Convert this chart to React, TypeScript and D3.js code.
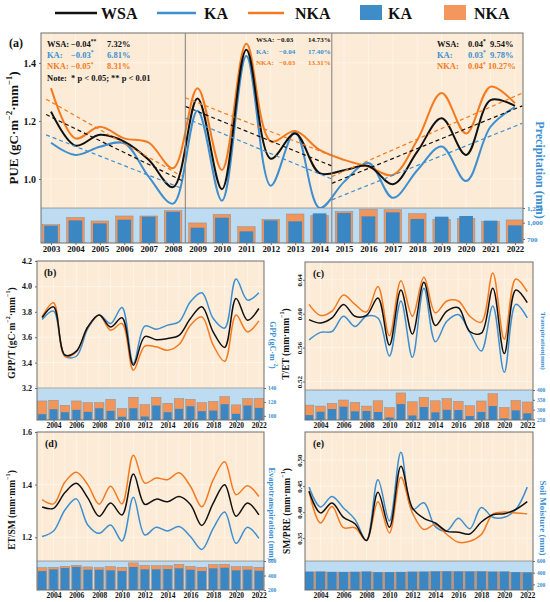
import { useEffect, useRef } from "react";
import * as d3 from "d3";

// ---------- data ----------
const years = [
  2003, 2004, 2005, 2006, 2007, 2008, 2009, 2010, 2011, 2012,
  2013, 2014, 2015, 2016, 2017, 2018, 2019, 2020, 2021, 2022,
];
const evenYears = [2004, 2006, 2008, 2010, 2012, 2014, 2016, 2018, 2020, 2022];

// (a) PUE + precipitation
const pueWSA = [1.232, 1.115, 1.152, 1.129, 1.066, 0.972, 1.277, 0.965, 1.445, 1.07, 1.157, 1.02, 1.03, 1.045, 0.982, 1.094, 1.209, 1.083, 1.272, 1.252];
const pueKA = [1.125, 1.083, 1.111, 1.123, 1.008, 0.915, 1.235, 0.925, 1.424, 0.977, 1.163, 0.9, 0.99, 1.055, 0.935, 1.03, 1.112, 0.993, 1.18, 1.248];
const pueNKA = [1.313, 1.14, 1.18, 1.14, 1.125, 1.037, 1.313, 1.031, 1.466, 1.13, 1.165, 1.1, 1.066, 1.042, 1.014, 1.134, 1.296, 1.157, 1.318, 1.261];
const preKA = [945, 1042, 987, 1055, 1110, 1200, 908, 1092, 840, 1042, 1024, 1171, 1178, 1116, 1190, 1068, 1110, 1123, 1037, 950];
const preNKA = [963, 1097, 1031, 1123, 1123, 1220, 995, 1153, 926, 1061, 1160, 1129, 1208, 1245, 1239, 1166, 1061, 1079, 1024, 1050];

// trend segments for (a): [x start, x end] and [value start, value end]
const trendSpans: [number, number][] = [[2002.8, 2008.35], [2008.5, 2014.5], [2014.5, 2022.3]];
const trendWSA: [number, number][] = [[1.222, 0.995], [1.25, 1.045], [0.985, 1.252]];
const trendKA: [number, number][] = [[1.152, 0.968], [1.21, 1.0], [0.928, 1.192]];
const trendNKA: [number, number][] = [[1.275, 1.01], [1.28, 1.08], [1.008, 1.296]];
const periodBreaks = [2008.5, 2014.5];

// (b) GPP/T + GPP
const gptWSA = [3.755, 3.839, 3.46, 3.49, 3.68, 3.775, 3.68, 3.753, 3.38, 3.605, 3.58, 3.59, 3.615, 3.747, 3.84, 3.64, 3.52, 3.905, 3.734, 3.826];
const gptKA = [3.739, 3.805, 3.45, 3.45, 3.668, 3.774, 3.708, 3.834, 3.392, 3.687, 3.663, 3.695, 3.72, 3.879, 3.95, 3.747, 3.672, 4.058, 3.892, 3.95];
const gptNKA = [3.76, 3.871, 3.45, 3.484, 3.68, 3.774, 3.655, 3.708, 3.34, 3.53, 3.524, 3.497, 3.542, 3.695, 3.76, 3.537, 3.41, 3.774, 3.642, 3.729];
const gppKA = [102.4, 109.5, 105.2, 108.6, 105.7, 110.9, 107.1, 98.6, 110.9, 99, 114.8, 105.2, 110, 113.8, 106.7, 107.6, 116.7, 102.9, 114.8, 111.4];
const gppNKA = [121.4, 122.4, 115.2, 121.4, 119, 119, 123.8, 110.5, 126.7, 116.2, 126.7, 118.1, 124.8, 123.8, 119, 120.9, 127.6, 115.7, 124.8, 125.2];

// (c) T/ET + transpiration
const tetWSA = [0.593, 0.589, 0.595, 0.611, 0.597, 0.598, 0.6185, 0.563, 0.628, 0.576, 0.637, 0.586, 0.603, 0.607, 0.579, 0.577, 0.63, 0.553, 0.628, 0.613];
const tetKA = [0.569, 0.578, 0.579, 0.597, 0.585, 0.597, 0.595, 0.55, 0.615, 0.5485, 0.63, 0.567, 0.591, 0.599, 0.578, 0.556, 0.609, 0.531, 0.611, 0.595];
const tetNKA = [0.611, 0.598, 0.603, 0.622, 0.611, 0.602, 0.632, 0.574, 0.639, 0.597, 0.643, 0.601, 0.615, 0.615, 0.597, 0.59, 0.648, 0.57, 0.641, 0.626];
const trKA = [272, 289, 303, 315, 291, 293, 288, 260, 328, 270, 313, 286, 299, 298, 267, 288, 318, 255, 296, 281];
const trNKA = [323, 318, 332, 349, 337, 318, 345, 310, 385, 340, 362, 345, 356, 342, 320, 344, 381, 311, 347, 339];

// (d) ET/SM + evapotranspiration
const esWSA = [1.315, 1.31, 1.37, 1.405, 1.35, 1.28, 1.33, 1.285, 1.44, 1.325, 1.345, 1.335, 1.355, 1.325, 1.245, 1.33, 1.4, 1.28, 1.33, 1.285];
const esKA = [1.203, 1.224, 1.304, 1.346, 1.247, 1.215, 1.247, 1.186, 1.352, 1.209, 1.238, 1.224, 1.241, 1.203, 1.154, 1.234, 1.296, 1.177, 1.238, 1.196];
const esNKA = [1.343, 1.327, 1.41, 1.447, 1.4, 1.326, 1.394, 1.327, 1.512, 1.406, 1.425, 1.419, 1.445, 1.394, 1.316, 1.419, 1.487, 1.362, 1.396, 1.355];
const etKA = [461, 485, 504, 518, 480, 480, 471, 461, 518, 485, 485, 489, 499, 480, 461, 499, 508, 471, 480, 466];
const etNKA = [508, 513, 527, 541, 518, 508, 522, 513, 574, 541, 536, 536, 555, 527, 513, 551, 555, 522, 522, 513];

// (e) SM/PRE + soil moisture
const spWSA = [0.44, 0.3985, 0.4177, 0.39, 0.3775, 0.3455, 0.438, 0.371, 0.488, 0.408, 0.388, 0.379, 0.363, 0.3615, 0.358, 0.381, 0.395, 0.397, 0.405, 0.42];
const spKA = [0.448, 0.41, 0.43, 0.408, 0.386, 0.3455, 0.462, 0.383, 0.515, 0.405, 0.418, 0.372, 0.364, 0.388, 0.368, 0.409, 0.39, 0.39, 0.405, 0.448];
const spNKA = [0.44, 0.379, 0.411, 0.37, 0.37, 0.3455, 0.42, 0.36, 0.467, 0.3985, 0.3666, 0.376, 0.357, 0.342, 0.344, 0.357, 0.396, 0.4, 0.3985, 0.3966];
const smKA = [417, 418, 413, 412, 414, 418, 408, 409, 412, 416, 417, 421, 422, 421, 420, 421, 417, 418, 409, 404];
const smNKA = [412, 414, 409, 409, 410, 414, 404, 405, 408, 412, 413, 417, 418, 417, 416, 417, 413, 414, 405, 400];

// ---------- style ----------
const FONT = "'Liberation Serif', 'Times New Roman', serif";
const C = {
  wsa: "#111111",
  ka: "#3b8fd2",
  nka: "#f47a20",
  barKA: "#3a87c4",
  barNKA: "#f2955a",
  lineBg: "#fcebd6",
  barBg: "#bddcf1",
  grid: "#fff6ec",
  frame: "#6e6e6e",
};

interface Box { left: number; right: number; top: number; mid: number; bottom: number; }

interface PanelCfg {
  id: string;
  tag: string;
  tagPos: [number, number];
  tagSize: number;
  box: Box;
  xDomain: [number, number];
  yDomain: [number, number];
  yTicks: number[];
  yFmt: (v: number) => string;
  yTickSize: number;
  yTickVertical?: boolean;
  barDomain: [number, number];
  barTicks: number[];
  barTickSize: number;
  wsa: number[];
  ka: number[];
  nka: number[];
  barKA: number[];
  barNKA: number[];
  yLabel: string;
  yLabelPos: [number, number];
  yLabelSize: number;
  rLabel: string;
  rLabelPos: [number, number];
  rLabelSize: number;
  yearTicks: number[];
  yearSize: number;
  orangeW: number;
  blueW: number;
  lineW: number;
}

// text with ^{...} superscripts
function richText(
  t: d3.Selection<SVGTextElement, unknown, null, undefined>,
  s: string,
  size: number
) {
  const parts = s.split(/(\^\{[^}]*\})/);
  let up = false;
  parts.forEach((p) => {
    if (!p) return;
    if (p.startsWith("^{")) {
      t.append("tspan")
        .attr("font-size", size * 0.65)
        .attr("dy", -size * 0.4)
        .text(p.slice(2, -1));
      up = true;
    } else {
      t.append("tspan").attr("dy", up ? size * 0.4 : 0).text(p);
      up = false;
    }
  });
}

function drawPanel(svg: d3.Selection<SVGSVGElement, unknown, null, undefined>, cfg: PanelCfg) {
  const { box } = cfg;
  const g = svg.append("g").attr("font-family", FONT).attr("font-weight", "bold");

  const x = d3.scaleLinear().domain(cfg.xDomain).range([box.left, box.right]);
  const y = d3.scaleLinear().domain(cfg.yDomain).range([box.mid, box.top]);
  const yb = d3.scaleLinear().domain(cfg.barDomain).range([box.bottom, box.mid]);
  const step = x(2004) - x(2003);

  const defs = g.append("defs");
  defs.append("clipPath").attr("id", `clipL-${cfg.id}`)
    .append("rect").attr("x", box.left).attr("y", box.top)
    .attr("width", box.right - box.left).attr("height", box.mid - box.top);
  defs.append("clipPath").attr("id", `clipB-${cfg.id}`)
    .append("rect").attr("x", box.left).attr("y", box.mid)
    .attr("width", box.right - box.left).attr("height", box.bottom - box.mid);

  // backgrounds
  g.append("rect").attr("x", box.left).attr("y", box.top)
    .attr("width", box.right - box.left).attr("height", box.mid - box.top)
    .attr("fill", C.lineBg);
  g.append("rect").attr("x", box.left).attr("y", box.mid)
    .attr("width", box.right - box.left).attr("height", box.bottom - box.mid)
    .attr("fill", C.barBg);

  // faint grid
  const grid = g.append("g").attr("stroke", C.grid).attr("stroke-width", 0.8);
  grid.selectAll("line.v").data(years).enter().append("line")
    .attr("x1", (d) => x(d)).attr("x2", (d) => x(d))
    .attr("y1", box.top).attr("y2", box.mid);
  grid.selectAll("line.h").data(cfg.yTicks).enter().append("line")
    .attr("x1", box.left).attr("x2", box.right)
    .attr("y1", (d) => y(d)).attr("y2", (d) => y(d));

  // bars
  const bars = g.append("g").attr("clip-path", `url(#clipB-${cfg.id})`);
  bars.selectAll("rect.nka").data(cfg.barNKA).enter().append("rect")
    .attr("x", (_, i) => x(years[i]) - (step * cfg.orangeW) / 2)
    .attr("width", step * cfg.orangeW)
    .attr("y", (d) => yb(d))
    .attr("height", (d) => box.bottom - yb(d))
    .attr("fill", C.barNKA)
    .attr("stroke", "#8f8f8f")
    .attr("stroke-width", 0.5);
  bars.selectAll("rect.ka").data(cfg.barKA).enter().append("rect")
    .attr("x", (_, i) => x(years[i]) - (step * cfg.blueW) / 2)
    .attr("width", step * cfg.blueW)
    .attr("y", (d) => yb(d))
    .attr("height", (d) => box.bottom - yb(d))
    .attr("fill", C.barKA);

  // lines
  const line = d3.line<number>()
    .x((_, i) => x(years[i]))
    .y((d) => y(d))
    .curve(d3.curveCatmullRom.alpha(0.5));
  const lines = g.append("g").attr("clip-path", `url(#clipL-${cfg.id})`).attr("fill", "none");
  lines.append("path").datum(cfg.ka).attr("stroke", C.ka).attr("stroke-width", cfg.lineW).attr("d", line);
  lines.append("path").datum(cfg.nka).attr("stroke", C.nka).attr("stroke-width", cfg.lineW).attr("d", line);
  lines.append("path").datum(cfg.wsa).attr("stroke", C.wsa).attr("stroke-width", cfg.lineW).attr("d", line);

  // frame
  g.append("rect").attr("x", box.left).attr("y", box.top)
    .attr("width", box.right - box.left).attr("height", box.bottom - box.top)
    .attr("fill", "none").attr("stroke", C.frame).attr("stroke-width", 1);
  g.append("line").attr("x1", box.left).attr("x2", box.right)
    .attr("y1", box.mid).attr("y2", box.mid)
    .attr("stroke", C.frame).attr("stroke-width", 0.6);

  // left axis
  const ya = g.append("g").attr("transform", `translate(${box.left},0)`)
    .call(d3.axisLeft(y).tickValues(cfg.yTicks).tickFormat((d) => cfg.yFmt(d as number)).tickSize(2).tickPadding(3));
  ya.select(".domain").remove();
  ya.selectAll("line").attr("stroke", C.frame);
  ya.selectAll("text").attr("fill", "#111").attr("font-size", cfg.yTickSize)
    .attr("font-family", FONT).attr("font-weight", "bold");
  if (cfg.yTickVertical) {
    ya.selectAll("text").attr("transform", "rotate(-90)")
      .attr("x", 0).attr("y", -3).attr("dy", 0).style("text-anchor", "middle");
  }

  // right bar axis
  const ra = g.append("g").attr("transform", `translate(${box.right},0)`)
    .call(d3.axisRight(yb).tickValues(cfg.barTicks).tickSize(2).tickPadding(2));
  ra.select(".domain").remove();
  ra.selectAll("line").attr("stroke", C.frame);
  ra.selectAll("text").attr("fill", C.ka).attr("font-size", cfg.barTickSize)
    .attr("font-family", FONT).attr("font-weight", "bold");

  // year axis
  const xa = g.append("g").attr("transform", `translate(0,${box.bottom})`)
    .call(d3.axisBottom(x).tickValues(cfg.yearTicks).tickFormat(d3.format("d")).tickSize(2).tickPadding(1));
  xa.select(".domain").remove();
  xa.selectAll("line").attr("stroke", C.frame);
  xa.selectAll("text").attr("fill", "#111").attr("font-size", cfg.yearSize)
    .attr("font-family", FONT).attr("font-weight", "bold");

  // axis titles
  const yl = g.append("text")
    .attr("transform", `translate(${cfg.yLabelPos[0]},${cfg.yLabelPos[1]}) rotate(-90)`)
    .attr("text-anchor", "middle").attr("dominant-baseline", "middle")
    .attr("font-size", cfg.yLabelSize).attr("fill", "#111");
  richText(yl, cfg.yLabel, cfg.yLabelSize);

  const rl = g.append("text")
    .attr("transform", `translate(${cfg.rLabelPos[0]},${cfg.rLabelPos[1]}) rotate(90)`)
    .attr("text-anchor", "middle").attr("dominant-baseline", "middle")
    .attr("font-size", cfg.rLabelSize).attr("fill", C.ka);
  richText(rl, cfg.rLabel, cfg.rLabelSize);

  g.append("text").attr("x", cfg.tagPos[0]).attr("y", cfg.tagPos[1])
    .attr("font-size", cfg.tagSize).attr("fill", "#111").text(cfg.tag);

  return { g, x, y };
}

function annoRow(
  g: d3.Selection<SVGGElement, unknown, null, undefined>,
  y: number, size: number, color: string,
  cols: [number, number, number],
  label: string, value: string, stars: string, pct: string
) {
  const t = g.append("text").attr("y", y).attr("font-size", size).attr("fill", color);
  t.append("tspan").attr("x", cols[0]).text(label);
  t.append("tspan").attr("x", cols[1]).text(value);
  if (stars) {
    t.append("tspan").attr("font-size", size * 0.65).attr("dy", -size * 0.4).text(stars);
    t.append("tspan").attr("x", cols[2]).attr("dy", size * 0.4).text(pct);
  } else {
    t.append("tspan").attr("x", cols[2]).text(pct);
  }
}

export default function App() {
  const svgRef = useRef<SVGSVGElement>(null);

  useEffect(() => {
    if (!svgRef.current) return;
    const svg = d3.select(svgRef.current);
    svg.selectAll("*").remove();

    // ---- legend ----
    const lg = svg.append("g").attr("font-family", FONT).attr("font-weight", "bold").attr("font-size", 16);
    const legendLines = [
      { x1: 55, x2: 97, tx: 101, color: C.wsa, name: "WSA" },
      { x1: 157, x2: 196, tx: 204, color: C.ka, name: "KA" },
      { x1: 248, x2: 284, tx: 295, color: C.nka, name: "NKA" },
    ];
    legendLines.forEach((l) => {
      lg.append("line").attr("x1", l.x1).attr("x2", l.x2).attr("y1", 13).attr("y2", 13)
        .attr("stroke", l.color).attr("stroke-width", 2.6);
      lg.append("text").attr("x", l.tx).attr("y", 19).attr("fill", "#111").text(l.name);
    });
    const legendBoxes = [
      { x: 360, tx: 388, color: "#3e8cc8", name: "KA" },
      { x: 444, tx: 474, color: "#f4975c", name: "NKA" },
    ];
    legendBoxes.forEach((b) => {
      lg.append("rect").attr("x", b.x).attr("y", 5).attr("width", 22).attr("height", 15).attr("fill", b.color);
      lg.append("text").attr("x", b.tx).attr("y", 19).attr("fill", "#111").text(b.name);
    });

    // ---- (a) ----
    const a = drawPanel(svg, {
      id: "a", tag: "(a)", tagPos: [9, 47], tagSize: 12,
      box: { left: 41, right: 523, top: 33, mid: 208, bottom: 243 },
      xDomain: [2002.59, 2022.33],
      yDomain: [0.9, 1.503], yTicks: [1.0, 1.2, 1.4], yFmt: d3.format(".1f"), yTickSize: 10,
      barDomain: [626, 1270], barTicks: [700, 1000, 1270], barTickSize: 7,
      wsa: pueWSA, ka: pueKA, nka: pueNKA, barKA: preKA, barNKA: preNKA,
      yLabel: "PUE (gC·m^{−2}·mm^{−1})", yLabelPos: [15, 128], yLabelSize: 13,
      rLabel: "Precipitation (mm)", rLabelPos: [539, 170], rLabelSize: 12,
      yearTicks: years, yearSize: 8.8,
      orangeW: 0.72, blueW: 0.56, lineW: 2,
    });

    // trend lines
    const trend = d3.line<[number, number]>().x((d) => a.x(d[0])).y((d) => a.y(d[1]));
    const tg = a.g.append("g").attr("fill", "none").attr("stroke-width", 1.2).attr("stroke-dasharray", "4,3")
      .attr("clip-path", "url(#clipL-a)");
    [
      { data: trendKA, color: C.ka },
      { data: trendNKA, color: C.nka },
      { data: trendWSA, color: C.wsa },
    ].forEach((s) => {
      s.data.forEach((v, i) => {
        tg.append("path").attr("stroke", s.color)
          .attr("d", trend([[trendSpans[i][0], v[0]], [trendSpans[i][1], v[1]]]));
      });
    });

    // period separators
    a.g.selectAll("line.sep").data(periodBreaks).enter().append("line")
      .attr("x1", (d) => a.x(d)).attr("x2", (d) => a.x(d))
      .attr("y1", 33).attr("y2", 243)
      .attr("stroke", "#808080").attr("stroke-width", 1);

    // annotations
    const an = a.g.append("g");
    annoRow(an, 46.5, 8.5, C.wsa, [47, 71, 107], "WSA:", "−0.04", "**", "7.32%");
    annoRow(an, 57.5, 8.5, C.ka, [47, 71, 107], "KA:", "−0.03", "*", "6.81%");
    annoRow(an, 69, 8.5, C.nka, [47, 71, 107], "NKA:", "−0.05", "*", "8.31%");
    an.append("text").attr("x", 47).attr("y", 81).attr("font-size", 8.5).attr("fill", "#111")
      .attr("xml:space", "preserve").text("Note:  * p < 0.05; ** p < 0.01");
    annoRow(an, 42, 7, C.wsa, [256, 277, 308], "WSA:", "−0.03", "", "14.73%");
    annoRow(an, 53.5, 7, C.ka, [256, 279, 308], "KA:", "−0.04", "", "17.40%");
    annoRow(an, 65, 7, C.nka, [256, 279, 308], "NKA:", "−0.03", "", "13.31%");
    annoRow(an, 46.5, 8.5, C.wsa, [437, 468, 490], "WSA:", "0.04", "*", "9.54%");
    annoRow(an, 57.5, 8.5, C.ka, [437, 468, 490], "KA:", "0.03", "*", "9.78%");
    annoRow(an, 69, 8.5, C.nka, [437, 468, 488], "NKA:", "0.04", "*", "10.27%");

    // ---- (b) ----
    drawPanel(svg, {
      id: "b", tag: "(b)", tagPos: [44, 276], tagSize: 10,
      box: { left: 37, right: 264, top: 261, mid: 388, bottom: 420 },
      xDomain: [2002.55, 2022.45],
      yDomain: [3.2, 4.2], yTicks: [3.2, 3.4, 3.6, 3.8, 4.0, 4.2], yFmt: d3.format(".1f"), yTickSize: 8,
      barDomain: [94, 140], barTicks: [100, 120, 140], barTickSize: 5.5,
      wsa: gptWSA, ka: gptKA, nka: gptNKA, barKA: gppKA, barNKA: gppNKA,
      yLabel: "GPP/T (gC·m^{−2}·mm^{−1})", yLabelPos: [13, 333], yLabelSize: 9.5,
      rLabel: "GPP (gC·m^{−2})", rLabelPos: [272, 345], rLabelSize: 8,
      yearTicks: evenYears, yearSize: 7.5,
      orangeW: 0.84, blueW: 0.7, lineW: 1.5,
    });

    // ---- (c) ----
    drawPanel(svg, {
      id: "c", tag: "(c)", tagPos: [313, 277], tagSize: 10,
      box: { left: 305, right: 533, top: 262, mid: 390, bottom: 420 },
      xDomain: [2002.65, 2022.5],
      yDomain: [0.51, 0.661], yTicks: [0.52, 0.56, 0.6, 0.64], yFmt: d3.format(".2f"), yTickSize: 7,
      yTickVertical: true,
      barDomain: [247, 400], barTicks: [250, 300, 350, 400], barTickSize: 5.5,
      wsa: tetWSA, ka: tetKA, nka: tetNKA, barKA: trKA, barNKA: trNKA,
      yLabel: "T/ET (mm·mm^{−1})", yLabelPos: [287, 344], yLabelSize: 9.5,
      rLabel: "Transpiration(mm)", rLabelPos: [543, 341], rLabelSize: 7,
      yearTicks: evenYears, yearSize: 7.5,
      orangeW: 0.84, blueW: 0.7, lineW: 1.5,
    });

    // ---- (d) ----
    drawPanel(svg, {
      id: "d", tag: "(d)", tagPos: [45, 447], tagSize: 10,
      box: { left: 37, right: 264, top: 432, mid: 561, bottom: 590 },
      xDomain: [2002.55, 2022.45],
      yDomain: [1.11, 1.6], yTicks: [1.2, 1.4, 1.6], yFmt: d3.format(".1f"), yTickSize: 8,
      barDomain: [200, 600], barTicks: [200, 400, 600], barTickSize: 5.5,
      wsa: esWSA, ka: esKA, nka: esNKA, barKA: etKA, barNKA: etNKA,
      yLabel: "ET/SM (mm·mm^{−1})", yLabelPos: [13, 510], yLabelSize: 9.5,
      rLabel: "Evapotranspiration (mm)", rLabelPos: [271, 514], rLabelSize: 8.5,
      yearTicks: evenYears, yearSize: 7.5,
      orangeW: 0.86, blueW: 0.74, lineW: 1.5,
    });

    // ---- (e) ----
    drawPanel(svg, {
      id: "e", tag: "(e)", tagPos: [313, 447], tagSize: 10,
      box: { left: 305, right: 533, top: 432, mid: 561, bottom: 590 },
      xDomain: [2002.65, 2022.5],
      yDomain: [0.306, 0.554], yTicks: [0.35, 0.4, 0.45, 0.5], yFmt: d3.format(".2f"), yTickSize: 7,
      yTickVertical: true,
      barDomain: [103, 600], barTicks: [200, 400, 600], barTickSize: 5.5,
      wsa: spWSA, ka: spKA, nka: spNKA, barKA: smKA, barNKA: smNKA,
      yLabel: "SM/PRE (mm·mm^{−1})", yLabelPos: [288, 511], yLabelSize: 9.5,
      rLabel: "Soil Moisture (mm)", rLabelPos: [542, 518], rLabelSize: 9,
      yearTicks: evenYears, yearSize: 7.5,
      orangeW: 0.96, blueW: 0.8, lineW: 1.5,
    });
  }, []);

  return (
    <svg
      ref={svgRef}
      width={550}
      height={602}
      style={{ position: "absolute", left: 0, top: 0, background: "#ffffff" }}
    />
  );
}
